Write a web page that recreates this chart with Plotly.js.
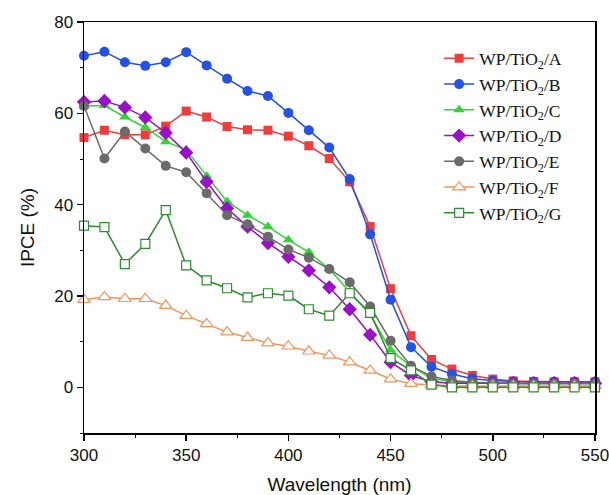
<!DOCTYPE html>
<html>
<head>
<meta charset="utf-8">
<script src="https://cdn.plot.ly/plotly-3.0.1.min.js"></script>
<style>html,body{margin:0;padding:0;background:#fff;}#chart{width:609px;height:495px;}</style>
</head>
<body>
<div id="chart"></div>
<script>
const wavelength = [300,310,320,330,340,350,360,370,380,390,400,410,420,430,440,450,460,470,480,490,500,510,520,530,540,550];
const seriesA = [54.7,56.3,55.3,55.3,57.2,60.5,59.2,57.1,56.4,56.3,55.0,52.9,50.1,45.0,35.2,21.6,11.3,6.1,4.0,2.6,1.8,1.4,1.3,1.2,1.2,1.2];
const seriesB = [72.6,73.5,71.2,70.4,71.2,73.4,70.5,67.6,64.9,63.8,60.1,56.3,52.5,45.6,33.5,19.2,8.8,4.5,2.9,1.9,1.5,1.3,1.2,1.2,1.2,1.2];
const seriesC = [61.6,61.7,59.2,56.9,53.8,52.0,46.3,40.7,37.7,35.2,32.3,29.6,25.9,21.0,15.9,8.2,4.6,2.0,1.2,1.0,0.9,0.9,0.9,0.9,0.9,0.9];
const seriesD = [62.5,62.7,61.3,59.1,55.7,51.4,45.0,39.2,35.2,31.6,28.6,25.6,21.9,17.1,11.5,5.5,2.6,1.2,0.9,0.9,0.9,0.9,0.9,0.9,0.9,0.9];
const seriesE = [61.6,50.1,56.0,52.3,48.5,47.1,42.5,37.7,35.7,33.0,30.2,28.4,25.9,23.0,17.7,10.2,4.7,2.4,1.5,1.1,0.9,0.8,0.8,0.8,0.8,0.8];
const seriesF = [19.2,19.8,19.4,19.4,17.9,15.7,13.9,12.1,10.9,9.7,9.0,7.9,7.0,5.5,3.7,1.8,0.8,0.5,0.3,0.3,0.3,0.3,0.3,0.3,0.3,0.3];
const seriesG = [35.4,35.1,27.0,31.4,38.8,26.7,23.4,21.7,19.7,20.6,20.1,17.1,15.7,20.6,16.3,6.4,3.7,0.6,0.0,0.0,0.0,0.0,0.0,0.0,0.0,0.0];
const seriesNames = ['WP/TiO<sub>2</sub>/A','WP/TiO<sub>2</sub>/B','WP/TiO<sub>2</sub>/C','WP/TiO<sub>2</sub>/D','WP/TiO<sub>2</sub>/E','WP/TiO<sub>2</sub>/F','WP/TiO<sub>2</sub>/G'];

const styles = [
  {color:'#f23b3b', symbol:'square', size:9, fill:null},
  {color:'#2352e6', symbol:'circle', size:10, fill:null},
  {color:'#33d433', symbol:'triangle-up', size:10, fill:null},
  {color:'#9a0fc8', symbol:'diamond', size:11, fill:null},
  {color:'#6b6b6b', symbol:'circle', size:10, fill:null},
  {color:'#f0955a', symbol:'triangle-up-open', size:11, fill:'#fff'},
  {color:'#2e8b2e', symbol:'square-open', size:9, fill:'#fff'}
];
const allSeries = [seriesA,seriesB,seriesC,seriesD,seriesE,seriesF,seriesG];

const traces = allSeries.map((ys,i)=>{
  const s = styles[i];
  const m = {symbol:s.symbol, size:s.size, color:s.color};
  if (s.fill) { m.symbol = s.symbol.replace('-open',''); m.color = '#ffffff'; m.line = {color:s.color, width:1.2}; }
  return {
    x: wavelength, y: ys, name: seriesNames[i], type:'scatter', mode:'lines+markers',
    line:{color:s.color, width:1.5}, marker:m, cliponaxis:false
  };
});

const sans = 'Liberation Sans, Arial, sans-serif';
const layout = {
  width:609, height:495,
  margin:{l:84, r:14, t:22, b:62},
  paper_bgcolor:'#fff', plot_bgcolor:'#fff',
  showlegend:true,
  legend:{x:0.695, y:0.955, xanchor:'left', yanchor:'top', bgcolor:'rgba(0,0,0,0)',
    font:{family:'Liberation Serif, Times New Roman, serif', size:17.5, color:'#111'}, tracegroupgap:0},
  xaxis:{range:[300,550], dtick:50, tick0:300, showline:true, mirror:true, linecolor:'#000', linewidth:1.5,
    ticks:'outside', ticklen:6, tickwidth:1.5, tickcolor:'#000', showgrid:false, zeroline:false,
    ticklabeloverflow:'allow', automargin:false,
    minor:{dtick:25, ticks:'outside', ticklen:3, tickwidth:1, tickcolor:'#000', showgrid:false},
    tickfont:{family:sans, size:17, color:'#111'},
    title:{text:'Wavelength (nm)', font:{family:sans, size:19, color:'#111'}, standoff:14}},
  yaxis:{range:[-10,80], dtick:20, tick0:0, showline:true, mirror:true, linecolor:'#000', linewidth:1.5,
    ticks:'outside', ticklen:6, tickwidth:1.5, tickcolor:'#000', showgrid:false, zeroline:false,
    ticklabeloverflow:'allow', automargin:false,
    minor:{dtick:10, ticks:'outside', ticklen:3, tickwidth:1, tickcolor:'#000', showgrid:false},
    tickfont:{family:sans, size:17, color:'#111'},
    title:{text:'IPCE (%)', font:{family:sans, size:19, color:'#111'}, standoff:14}}
};

Plotly.newPlot('chart', traces, layout, {displayModeBar:false, staticPlot:true});
</script>
</body>
</html>
